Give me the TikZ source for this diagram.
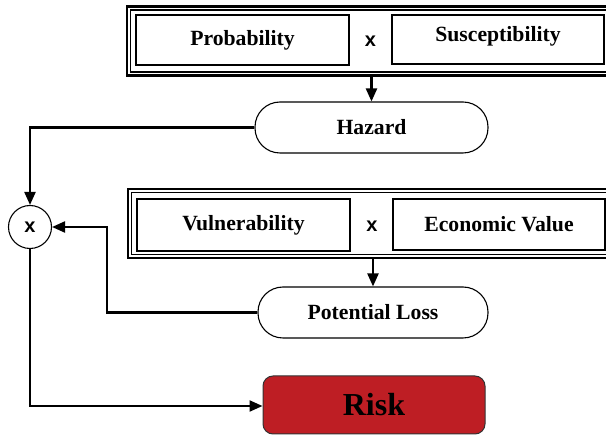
\documentclass[tikz,border=0pt]{standalone}
\usepackage{fontspec}
\setmainfont{Liberation Serif}
\newfontfamily\xsans{Liberation Sans}
\usetikzlibrary{arrows.meta,calc}
\definecolor{riskred}{HTML}{BE1E24}
\begin{document}
\begin{tikzpicture}[x=1pt,y=-1pt,
  lbl/.style={font=\fontsize{21.7}{24}\selectfont\bfseries},
  inbox/.style={draw,line width=2.4pt,minimum width=#1,minimum height=50,inner sep=0pt,lbl},
  stadium/.style={draw,line width=1.1pt,rounded corners=25pt,minimum height=51,inner sep=0pt,lbl},
  frameout/.style={draw,line width=2.8pt,inner sep=0pt},
  framein/.style={draw,line width=1.1pt,inner sep=0pt},
  times/.style={font=\xsans\fontsize{20}{22}\selectfont\bfseries,inner sep=0pt},
  conn/.style={line width=2.2pt,-{Triangle[length=13pt,width=11pt]}}]
\useasboundingbox (0,0) rectangle (606,435);
% frame 1
\node[frameout,minimum width=493,minimum height=69] (f1) at (373.5,41) {};
\node[framein,minimum width=486,minimum height=62] (f1i) at (373.5,41) {};
\node[inbox=213] (prob) at (242.5,40) {Probability};
\node[times] (x1) at (370.5,41) {x};
\node[inbox=212,minimum height=49,text depth=12pt] (susc) at (498,39.5) {Susceptibility};
% hazard
\node[stadium,minimum width=233] (haz) at (371.5,127.5) {Hazard};
% frame 2
\node[frameout,minimum width=493,minimum height=69] (f2) at (374.5,223.5) {};
\node[framein,minimum width=486,minimum height=62] (f2i) at (374.5,223.5) {};
\node[inbox=213,minimum height=52] (vul) at (243.5,225) {Vulnerability};
\node[times] (x2) at (372,226) {x};
\node[inbox=212,minimum height=51] (eco) at (499,224.5) {Economic Value};
% potential loss
\node[stadium,minimum width=230] (pot) at (373,312.5) {Potential Loss};
% multiply circle
\node[circle,draw,line width=1.1pt,minimum size=43,inner sep=0pt,times] (mul) at (30,227) {x};
% risk
\node[draw=black!80,line width=1pt,fill=riskred,rounded corners=10pt,minimum width=222,minimum height=58,inner sep=0pt,font=\fontsize{32}{36}\selectfont\bfseries] (risk) at (374,405) {Risk};
% connectors
\coordinate (c1) at (30,127.5);
\coordinate (c2) at (107,312.5);
\coordinate (c3) at (107,227);
\coordinate (c4) at (30,406);
\draw[conn] (f1.south -| haz.north) -- (haz.north);
\draw[conn] (haz.west) -- (c1) -- (mul.north);
\draw[conn] (f2.south -| pot.north) -- (pot.north);
\draw[conn] (pot.west) -- (c2) -- (c3) -- (mul.east);
\draw[conn] (mul.south) -- (c4) -- (c4 -| risk.west);
\end{tikzpicture}
\end{document}
